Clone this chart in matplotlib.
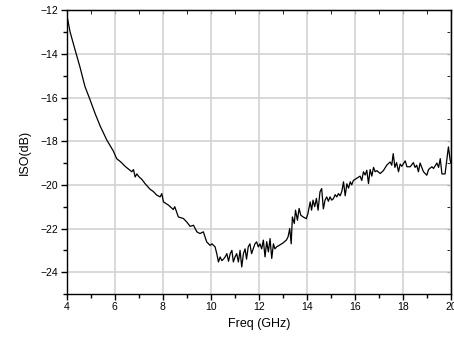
import matplotlib
matplotlib.use('Agg')
import matplotlib.pyplot as plt
from matplotlib.ticker import MultipleLocator

# values (GHz, dB)
freq = [4.00, 4.14, 4.35, 4.55, 4.76, 4.97, 5.18, 5.39, 5.67, 5.94,
        6.08, 6.25, 6.43, 6.60, 6.71, 6.78, 6.85, 6.92, 7.00, 7.13,
        7.26, 7.47, 7.60, 7.75, 7.89, 7.96, 8.03, 8.24, 8.44, 8.50,
        8.65, 8.86, 9.00, 9.14, 9.28, 9.42, 9.55, 9.69, 9.83, 9.97,
        10.05, 10.18, 10.25, 10.32, 10.39, 10.46, 10.53, 10.60, 10.67, 10.74,
        10.81, 10.88, 10.94, 11.01, 11.08, 11.15, 11.22, 11.29, 11.36, 11.43,
        11.49, 11.56, 11.63, 11.70, 11.84, 11.91, 11.98, 12.05, 12.12, 12.19,
        12.26, 12.33, 12.40, 12.47, 12.54, 12.61, 12.67, 12.74, 12.88, 13.02,
        13.15, 13.22, 13.29, 13.35, 13.40, 13.48, 13.53, 13.61, 13.68, 13.75,
        13.85, 13.98, 14.05, 14.14, 14.20, 14.26, 14.33, 14.40, 14.47, 14.55,
        14.62, 14.69, 14.76, 14.83, 14.90, 14.97, 15.04, 15.11, 15.18, 15.25,
        15.32, 15.39, 15.46, 15.53,
        15.60, 15.67, 15.74, 15.81, 15.87, 15.94, 16.08, 16.22, 16.29, 16.36,
        16.43, 16.50, 16.57, 16.64, 16.71, 16.78, 16.85, 16.92, 17.06, 17.19,
        17.33, 17.47, 17.54, 17.60, 17.67, 17.74, 17.82, 17.89, 17.96, 18.10,
        18.17, 18.31, 18.44, 18.51, 18.58, 18.65, 18.72, 18.79, 18.86, 19.00,
        19.07, 19.21, 19.28, 19.42, 19.49, 19.56, 19.63, 19.76, 19.90, 19.97,
        20.00]
iso = [-12.20, -13.00, -13.83, -14.60, -15.50, -16.10, -16.73, -17.30, -17.95, -18.45,
       -18.80, -18.95, -19.15, -19.30, -19.40, -19.30, -19.64, -19.50, -19.62, -19.75,
       -19.94, -20.20, -20.30, -20.47, -20.55, -20.40, -20.78, -20.93, -21.13, -21.00,
       -21.47, -21.54, -21.70, -21.90, -21.85, -22.15, -22.23, -22.15, -22.61, -22.77,
       -22.70, -22.84, -23.15, -23.53, -23.30, -23.47, -23.40, -23.30, -23.15, -23.50,
       -23.15, -23.00, -23.53, -23.30, -23.15, -23.53, -23.00, -23.76, -23.15, -22.93,
       -23.40, -22.84, -22.70, -23.15, -22.70, -22.61, -22.84, -22.70, -22.93, -22.53,
       -23.30, -22.60, -23.07, -22.46, -23.37, -22.70, -22.93, -22.84, -22.75, -22.65,
       -22.53, -22.38, -22.00, -22.70, -21.47, -21.77, -21.16, -21.62, -21.08, -21.39,
       -21.47, -21.55, -21.30, -20.78, -21.16, -20.70, -21.00, -20.62, -21.16, -20.32,
       -20.17, -21.10, -20.70, -20.55, -20.75, -20.55, -20.70, -20.63, -20.45, -20.55,
       -20.40, -20.50, -20.30, -19.86,
       -20.50, -19.95, -20.15, -19.86, -20.00, -19.80, -19.70, -19.60, -19.80, -19.40,
       -19.55, -19.33, -19.94, -19.30, -19.60, -19.20, -19.40, -19.35, -19.48, -19.35,
       -19.10, -18.95, -19.10, -18.57, -19.20, -18.98, -19.40, -19.05, -19.15, -18.90,
       -19.17, -19.17, -18.98, -19.20, -19.10, -19.40, -19.00, -19.20, -19.40, -19.56,
       -19.30, -19.17, -19.25, -19.00, -19.20, -18.80, -19.50, -19.50, -18.26, -18.85,
       -19.00]

x_ticks = [4, 6, 8, 10, 12, 14, 16, 18, 20]
y_ticks = [-24, -22, -20, -18, -16, -14, -12]

plt.rcParams['font.family'] = ['Liberation Sans', 'DejaVu Sans']

fig = plt.figure(figsize=(4.54, 3.38), dpi=100)
ax = fig.add_axes([0.147, 0.130, 0.846, 0.840])

ax.grid(True, which='major', color='#d2d2d2', linewidth=1.2)
ax.set_axisbelow(True)
ax.plot(freq, iso, color='black', linewidth=0.9)

ax.set_xlim(4, 20)
ax.set_ylim(-25, -12)
ax.set_xticks(x_ticks)
ax.set_yticks(y_ticks)
ax.xaxis.set_minor_locator(MultipleLocator(1))
ax.yaxis.set_minor_locator(MultipleLocator(1))
ax.tick_params(which='both', direction='out', labelsize=7.5, width=1, pad=2)
ax.tick_params(which='major', length=4)
ax.tick_params(which='minor', length=3)

# ticks pointing inward on top and right
top = ax.secondary_xaxis('top')
top.set_xticks(x_ticks)
top.xaxis.set_minor_locator(MultipleLocator(1))
top.tick_params(which='both', direction='in', labeltop=False, length=3)
right = ax.secondary_yaxis('right')
right.set_yticks(y_ticks)
right.yaxis.set_minor_locator(MultipleLocator(1))
right.tick_params(which='both', direction='in', labelright=False, length=3)

for s in ax.spines.values():
    s.set_linewidth(1)

ax.set_xlabel('Freq (GHz)', fontsize=9, labelpad=4)
ax.set_ylabel('ISO(dB)', fontsize=9, labelpad=7)

fig.savefig('out.png', dpi=100)
